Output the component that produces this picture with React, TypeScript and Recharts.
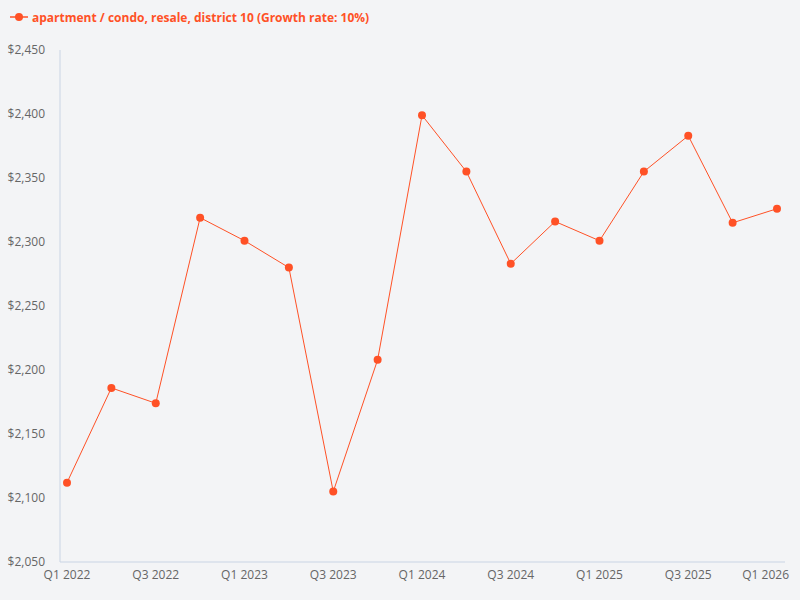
import React from "react";
import { LineChart, Line, XAxis, YAxis, Legend } from "recharts";

const categories = [
  "Q1 2022", "Q2 2022", "Q3 2022", "Q4 2022",
  "Q1 2023", "Q2 2023", "Q3 2023", "Q4 2023",
  "Q1 2024", "Q2 2024", "Q3 2024", "Q4 2024",
  "Q1 2025", "Q2 2025", "Q3 2025", "Q4 2025",
  "Q1 2026",
];
const prices = [
  2112, 2186, 2174, 2319, 2301, 2280, 2105, 2208, 2399, 2355, 2283, 2316,
  2301, 2355, 2383, 2315, 2326,
];
const yTicks = [2050, 2100, 2150, 2200, 2250, 2300, 2350, 2400, 2450];
const seriesName = "apartment / condo, resale, district 10 (Growth rate: 10%)";

const COLOR = "#ff5126";
const FONT = "'Open Sans', sans-serif";

const data = categories.map((c, i) => ({ quarter: c, value: prices[i] }));

const LegendContent = () => (
  <div style={{ display: "flex", alignItems: "center", fontFamily: FONT, fontWeight: 700, fontSize: 12, color: COLOR, height: 18 }}>
    <svg width={18} height={10} style={{ marginRight: 4 }}>
      <line x1={0} y1={5} x2={18} y2={5} stroke={COLOR} strokeWidth={1.5} />
      <circle cx={9} cy={5} r={4} fill={COLOR} />
    </svg>
    <span>{seriesName}</span>
  </div>
);

const XTick = (props: any) => {
  const { x, y, payload } = props;
  const isLast = payload.value === categories[categories.length - 1];
  return (
    <text
      x={isLast ? 789 : x}
      y={y}
      dy="0.71em"
      textAnchor={isLast ? "end" : "middle"}
      fill="#666"
      fontSize={12}
      fontFamily={FONT}
    >
      {payload.value}
    </text>
  );
};

export default function App() {
  return (
    <div style={{ position: "fixed", left: 0, top: 0, width: 800, height: 600, background: "#f3f4f6", fontFamily: FONT }}>
      <LineChart width={800} height={600} data={data} margin={{ top: 32, right: 15, bottom: 8, left: 0 }}>
        <Legend verticalAlign="top" align="left" content={<LegendContent />} wrapperStyle={{ top: 8, left: 10 }} />
        <XAxis
          dataKey="quarter"
          interval={1}
          tickLine={false}
          axisLine={{ stroke: "#c9d4e4" }}
          padding={{ left: 7, right: 8 }}
          tick={<XTick />}
          height={30}
        />
        <YAxis
          domain={[2050, 2450]}
          ticks={yTicks}
          tickLine={false}
          axisLine={{ stroke: "#c9d4e4" }}
          tickMargin={9}
          width={60}
          tick={{ fill: "#666", fontSize: 12, fontFamily: FONT }}
          tickFormatter={(v: number) => `$${v.toLocaleString("en-US")}`}
        />
        <Line
          type="linear"
          dataKey="value"
          name={seriesName}
          stroke={COLOR}
          strokeWidth={1}
          dot={{ r: 4, fill: COLOR, stroke: "none" }}
          activeDot={false}
          isAnimationActive={false}
        />
      </LineChart>
    </div>
  );
}
